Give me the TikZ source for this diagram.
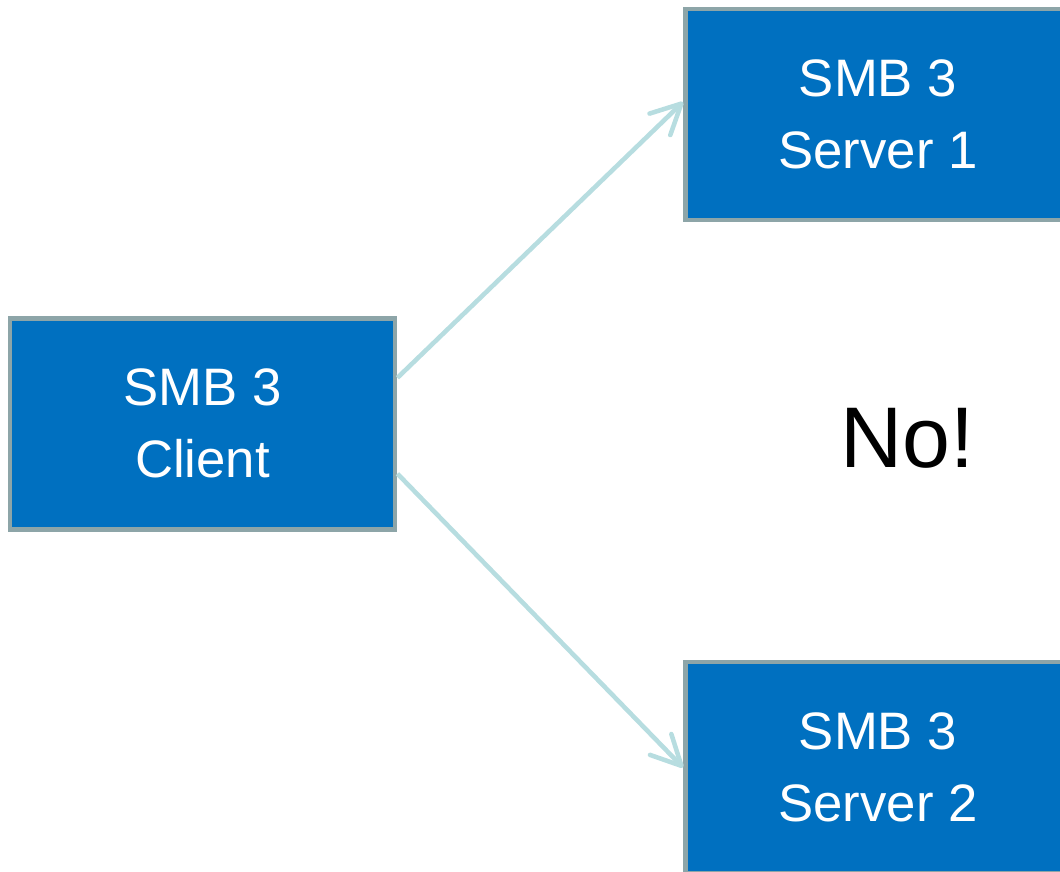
\documentclass[tikz,border=0pt]{standalone}
\usepackage{fontspec}
\setmainfont{Liberation Sans}
\usetikzlibrary{arrows.meta}
\definecolor{smbblue}{HTML}{0070C0}
\definecolor{smbedge}{HTML}{8DA5A8}
\definecolor{smblink}{HTML}{B7DDE0}
\begin{document}
\begin{tikzpicture}[
        smb box/.style={fill=smbblue, draw=smbedge, line width=1.4pt, text=white,
            minimum width=3.85cm, minimum height=2.11cm, align=center,
            font=\fontsize{15}{20.5}\selectfont},
        smb link/.style={draw=smblink, line width=1.3pt,
            -{Straight Barb[length=8.5pt, width=8.5pt, round]}},
    ]

    % Seitenrahmen wie im Original
    \useasboundingbox (0,0) rectangle (10.6,8.71);

    % Client und die beiden Server
    \node[smb box] (client)  at (2.025, 4.4725) {SMB 3\\Client};
    \node[smb box] (server1) at (8.78, 7.565)   {SMB 3\\Server 1};
    \node[smb box] (server2) at (8.78, 1.035)   {SMB 3\\Server 2};

    % Hinweis rechts
    \node[font=\fontsize{24.5}{29}\selectfont] (nope) at (9.07, 4.33) {No!};

    % Verbindungen vom Client aus
    \draw[smb link] ([yshift=0.46cm]client.east) -- ([yshift=0.125cm]server1.west);
    \draw[smb link] ([yshift=-0.5cm]client.east) -- (server2.west);

\end{tikzpicture}
\end{document}
